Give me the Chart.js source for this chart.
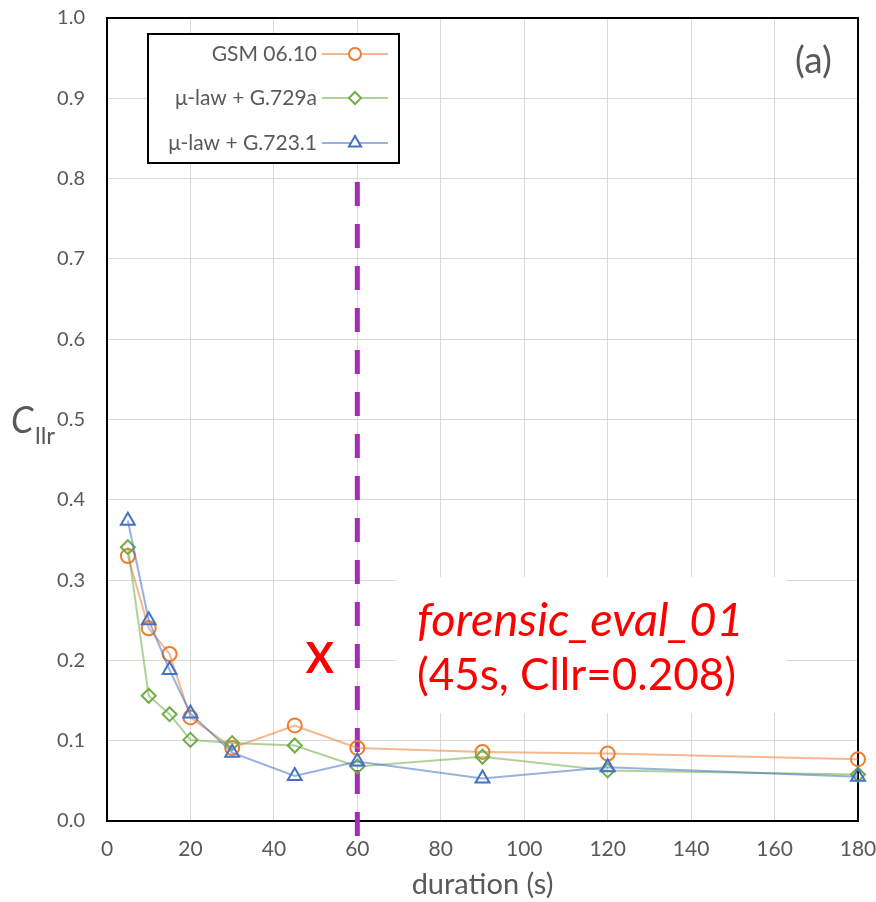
<!DOCTYPE html>
<html>
<head>
<meta charset="utf-8">
<script src="https://cdn.jsdelivr.net/npm/chart.js@4"></script>
<style>
  html, body { margin: 0; padding: 0; background: #fff; }
  #wrap { width: 876px; height: 902px; }
</style>
</head>
<body>
<div id="wrap"><canvas id="cllrChart" width="876" height="902"></canvas></div>
<script>
// Durations (s) and Cllr values per codec
const durations = [5, 10, 15, 20, 30, 45, 60, 90, 120, 180];
const gsmValues = [0.330, 0.240, 0.208, 0.129, 0.091, 0.119, 0.091, 0.086, 0.084, 0.077];
const g729Values = [0.341, 0.156, 0.133, 0.101, 0.097, 0.094, 0.068, 0.080, 0.063, 0.058];
const g723Values = [0.374, 0.250, 0.188, 0.134, 0.085, 0.056, 0.074, 0.053, 0.067, 0.055];
const seriesLabels = ['GSM 06.10', 'μ-law + G.729a', 'μ-law + G.723.1'];

// Axis ranges
const xTicks = [0, 180, 20];
const yTicks = [0, 1, 0.1];

// Marked sample + threshold line
const thresholdX = 60;
const markX = 51, markY = 0.203;
const markLines = ['forensic_eval_01', '(45s, Cllr=0.208)'];

const FONT = 'Lato, "Open Sans", sans-serif';
const GREY = '#595959';
const colors = ['#ED7D31', '#70AD47', '#4472C4'];
const lineColors = ['rgba(237,125,49,0.55)', 'rgba(112,173,71,0.55)', 'rgba(68,114,196,0.55)'];
const shapes = ['circle', 'rectRot', 'triangle'];

function toPoints(vals) {
    return durations.map((d, i) => ({ x: d, y: vals[i] }));
}

function makeSet(i, vals) {
    return {
        label: seriesLabels[i],
        data: toPoints(vals),
        borderColor: lineColors[i],
        borderWidth: 2,
        pointStyle: shapes[i],
        pointRadius: i === 2 ? 8 : 7,
        pointBorderWidth: 2,
        pointBorderColor: colors[i],
        pointBackgroundColor: 'rgba(0,0,0,0)',
        tension: 0,
        clip: false,
        order: 3 - i
    };
}

// Everything the library does not draw itself: frame, legend, labels, annotation
const decorPlugin = {
    id: 'decor',
    beforeDatasetsDraw(chart) {
        const ctx = chart.ctx;
        const a = chart.chartArea;
        const xs = chart.scales.x;
        ctx.save();
        // white box behind annotation text
        ctx.fillStyle = '#fff';
        ctx.fillRect(396, 577, 390, 136);
        // plot frame
        ctx.strokeStyle = '#000';
        ctx.lineWidth = 2;
        ctx.strokeRect(a.left, a.top, a.right - a.left, a.bottom - a.top);
        // dashed threshold line
        const tx = xs.getPixelForValue(thresholdX);
        ctx.strokeStyle = '#a82bb8';
        ctx.lineWidth = 5;
        ctx.setLineDash([24, 18]);
        ctx.beginPath();
        ctx.moveTo(tx, 182);
        ctx.lineTo(tx, 836);
        ctx.stroke();
        ctx.setLineDash([]);
        ctx.restore();
    },
    afterDraw(chart) {
        const ctx = chart.ctx;
        const xs = chart.scales.x, ys = chart.scales.y;
        ctx.save();
        // legend box
        ctx.fillStyle = '#fff';
        ctx.fillRect(148, 34, 251, 129);
        ctx.strokeStyle = '#000';
        ctx.lineWidth = 2;
        ctx.strokeRect(148, 34, 251, 129);
        const rowsY = [54, 98, 143];
        chart.data.datasets.forEach((ds, i) => {
            const y = rowsY[i];
            ctx.font = '21px ' + FONT;
            ctx.fillStyle = GREY;
            ctx.textAlign = 'right';
            ctx.textBaseline = 'middle';
            ctx.fillText(ds.label, 317, y);
            ctx.strokeStyle = lineColors[i];
            ctx.lineWidth = 2;
            ctx.beginPath();
            ctx.moveTo(322, y);
            ctx.lineTo(388, y);
            ctx.stroke();
            ctx.strokeStyle = colors[i];
            ctx.fillStyle = '#fff';
            ctx.lineWidth = 2;
            Chart.helpers.drawPoint(ctx, { pointStyle: shapes[i], radius: i === 2 ? 7 : 6, borderWidth: 2 }, 355, y);
        });
        // panel tag
        ctx.font = '37px ' + FONT;
        ctx.fillStyle = GREY;
        ctx.textAlign = 'left';
        ctx.textBaseline = 'alphabetic';
        ctx.fillText('(a)', 795, 73);
        // y axis title C_llr
        ctx.font = 'italic 36px ' + FONT;
        ctx.fillText('C', 11, 433);
        ctx.font = '24px ' + FONT;
        ctx.fillText('llr', 35, 444);
        // x axis title
        ctx.font = '29px ' + FONT;
        ctx.textAlign = 'center';
        ctx.fillText('duration (s)', (chart.chartArea.left + chart.chartArea.right) / 2, 894);
        // red X mark
        ctx.fillStyle = '#ff0000';
        ctx.font = 'bold 42px ' + FONT;
        ctx.fillText('X', xs.getPixelForValue(markX), ys.getPixelForValue(markY) + 15);
        // annotation text
        ctx.textAlign = 'left';
        ctx.font = 'italic 47px ' + FONT;
        ctx.fillText(markLines[0], 417, 636);
        ctx.font = '44px ' + FONT;
        ctx.fillText(markLines[1], 417, 690);
        ctx.restore();
    }
};

const chart = new Chart(document.getElementById('cllrChart').getContext('2d'), {
    type: 'line',
    data: {
        datasets: [
            makeSet(0, gsmValues),
            makeSet(1, g729Values),
            makeSet(2, g723Values)
        ]
    },
    options: {
        responsive: false,
        animation: false,
        layout: { padding: { top: 18, right: 18, left: 0, bottom: 0 } },
        plugins: { legend: { display: false }, tooltip: { enabled: false } },
        scales: {
            x: {
                type: 'linear',
                min: xTicks[0], max: xTicks[1],
                ticks: { stepSize: xTicks[2], color: GREY, font: { family: FONT, size: 21 }, padding: 16 },
                grid: { color: '#d9d9d9', lineWidth: 1, drawTicks: false },
                border: { display: false },
                afterFit(scale) {
                    scale.height = 81;
                    scale.paddingLeft = 0;
                    scale.paddingRight = 0;
                }
            },
            y: {
                min: yTicks[0], max: yTicks[1],
                ticks: {
                    stepSize: yTicks[2], color: GREY, font: { family: FONT, size: 20 }, padding: 22,
                    callback: v => Number(v).toFixed(1)
                },
                grid: { color: '#d9d9d9', lineWidth: 1, drawTicks: false },
                border: { display: false },
                afterFit(scale) {
                    scale.width = 107;
                    scale.paddingTop = 0;
                    scale.paddingBottom = 0;
                }
            }
        }
    },
    plugins: [decorPlugin]
});
</script>
</body>
</html>
